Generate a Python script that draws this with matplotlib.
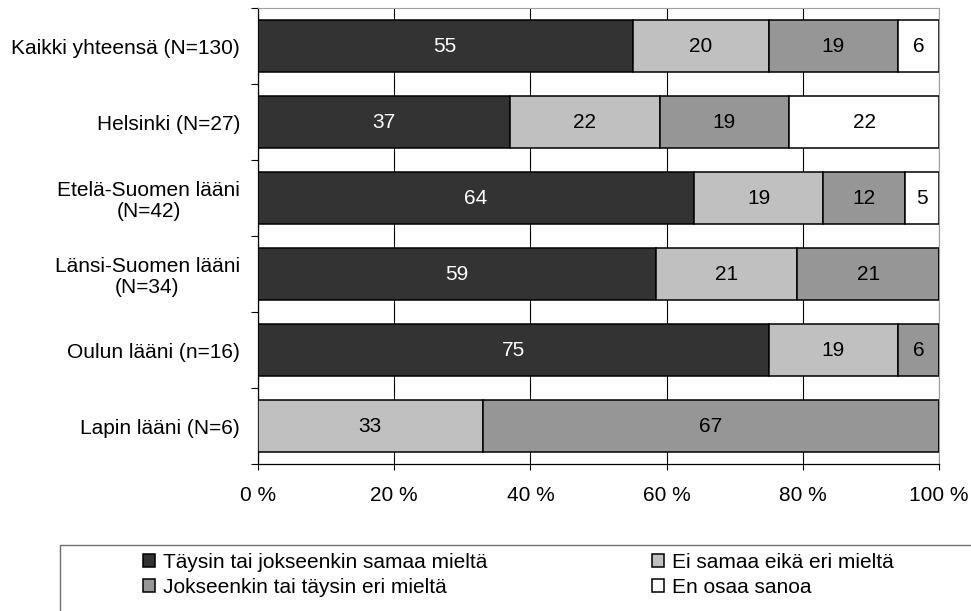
import numpy as np
import matplotlib.pyplot as plt
from matplotlib.patches import Rectangle

plt.rcParams['font.family'] = ['Liberation Sans', 'DejaVu Sans']

# data (percentages per region)
regions = ['Kaikki yhteensä (N=130)', 'Helsinki (N=27)', 'Etelä-Suomen lääni\n(N=42)',
           'Länsi-Suomen lääni\n(N=34)', 'Oulun lääni (n=16)', 'Lapin lääni (N=6)']
series = ['Täysin tai jokseenkin samaa mieltä', 'Ei samaa eikä eri mieltä',
          'Jokseenkin tai täysin eri mieltä', 'En osaa sanoa']
agree = [55, 37, 64, 59, 75, 0]
neutral = [20, 22, 19, 21, 19, 33]
disagree = [19, 19, 12, 21, 6, 67]
dontknow = [6, 22, 5, 0, 0, 0]
xticklabels = ['0 %', '20 %', '40 %', '60 %', '80 %', '100 %']

colors = ['#333333', '#c0c0c0', '#969696', '#ffffff']
textcol = ['white', 'black', 'black', 'black']
fs = 15

vals = np.array([agree, neutral, disagree, dontknow], dtype=float)
share = vals / vals.sum(axis=0) * 100   # 100 % stacked

fig = plt.figure(figsize=(9.71, 6.11), dpi=100)
ax = fig.add_axes([258/971, 1-464/611, 681/971, 456/611])

y = np.arange(len(regions))
left = np.zeros(len(regions))
conts = []
for i in range(4):
    c = ax.barh(y, share[i], left=left, height=0.68, color=colors[i],
                edgecolor='black', linewidth=1.1, zorder=3, label=series[i])
    labs = [('%d' % v if v > 0 else '') for v in vals[i]]
    ax.bar_label(c, labels=labs, label_type='center', color=textcol[i], fontsize=fs)
    conts.append(c)
    left += share[i]

ax.set_xlim(0, 100)
ax.set_ylim(len(regions)-0.5, -0.5)
ax.set_xticks(np.arange(0, 101, 20))
ax.set_xticklabels(xticklabels, fontsize=fs)
ax.tick_params(axis='x', length=4, width=0.8, pad=12)
ax.grid(axis='x', color='black', linewidth=0.8, zorder=0)

ax.set_yticks(np.arange(-0.5, len(regions)))
ax.set_yticklabels([])
ax.set_yticks(y, minor=True)
ax.set_yticklabels(regions, minor=True, fontsize=fs, multialignment='center',
                   linespacing=1.15)
ax.tick_params(axis='y', which='major', length=5, width=0.8)
ax.tick_params(axis='y', which='minor', length=0, pad=13)

for s in ['top', 'right']:
    ax.spines[s].set_color('#a0a0a0')
ax.spines['left'].set_linewidth(0.9)
ax.spines['bottom'].set_linewidth(0.9)

# legend box (runs off the image like the original)
fig.patches.append(Rectangle((60/971, -0.1), 1.0, 0.1+1-545/611, transform=fig.transFigure,
                             fill=False, edgecolor='#707070', linewidth=1.0))
kw = dict(loc='upper left', frameon=False, fontsize=fs, borderpad=0, borderaxespad=0,
          handlelength=0.58, handleheight=0.58, handletextpad=0.4, labelspacing=0.3)
fig.legend([conts[0], conts[2]], [series[0], series[2]],
           bbox_to_anchor=(143/971, 1-553/611), **kw)
fig.legend([conts[1], conts[3]], [series[1], series[3]],
           bbox_to_anchor=(652/971, 1-553/611), **kw)

fig.savefig('out.png', dpi=100)
